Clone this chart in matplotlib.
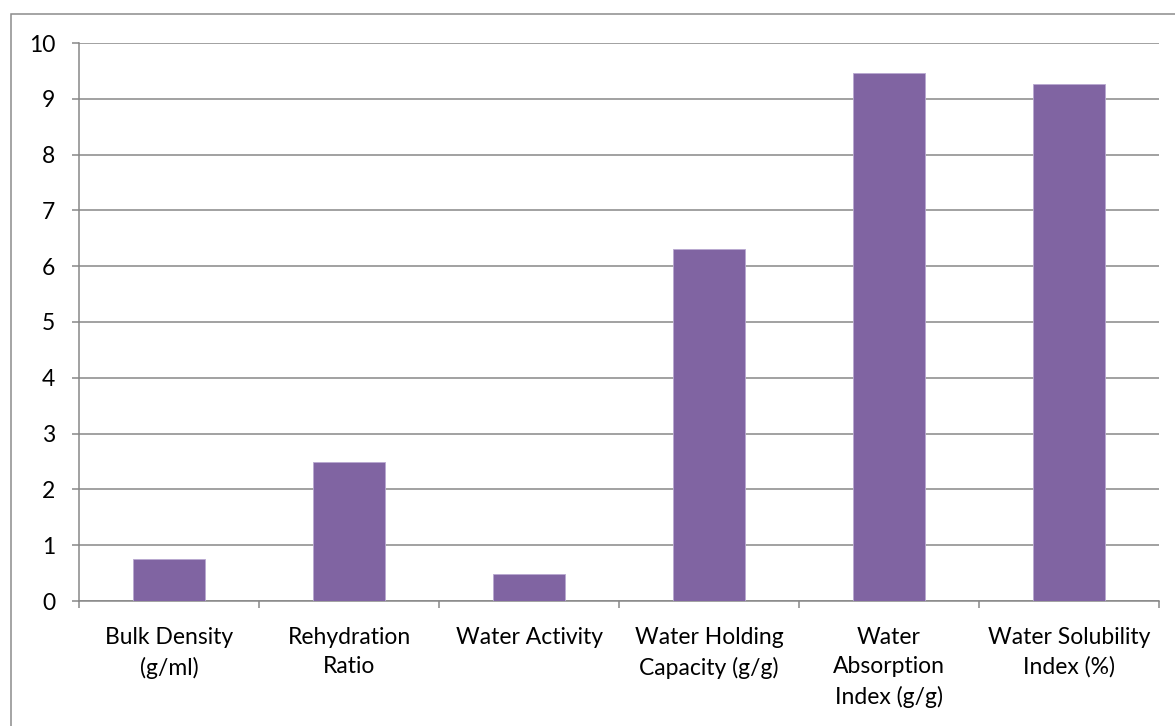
import matplotlib
matplotlib.use("Agg")
import matplotlib.pyplot as plt
from matplotlib.patches import Rectangle
import numpy as np

categories = [
    "Bulk Density\n(g/ml)",
    "Rehydration\nRatio",
    "Water Activity",
    "Water Holding\nCapacity (g/g)",
    "Water\nAbsorption\nIndex (g/g)",
    "Water Solubility\nIndex (%)",
]
values = [0.76, 2.49, 0.49, 6.31, 9.46, 9.27]
y_ticks = [0, 1, 2, 3, 4, 5, 6, 7, 8, 9, 10]

plt.rcParams["font.family"] = ["Lato", "DejaVu Sans"]

W, H = 1175, 726
fig = plt.figure(figsize=(W / 100, H / 100), dpi=100)
ax = fig.add_axes([79 / W, 1 - 601 / H, (1159 - 79) / W, (601 - 43) / H])

grid_c = "#878787"
x = np.arange(len(categories))
ax.bar(x, values, width=0.4, color="#8064A2", edgecolor="#B8A8D0",
       linewidth=0.6, zorder=3)

ax.set_xlim(-0.5, len(categories) - 0.5)
ax.set_ylim(0, 10)
ax.set_yticks(y_ticks)
ax.yaxis.grid(True, color=grid_c, linewidth=1.1, zorder=0)

ax.set_xticks(x)
ax.set_xticklabels(categories, fontsize=16.5, linespacing=1.5, va="top")
ax.set_xticks(np.arange(len(categories) + 1) - 0.5, minor=True)
ax.tick_params(axis="x", which="major", length=0, pad=18.5)
ax.tick_params(axis="x", which="minor", length=5, width=1.1, color=grid_c,
               direction="out")
ax.tick_params(axis="y", length=5, width=1.1, color=grid_c, pad=12,
               labelsize=16.5)

for s in ("top", "right"):
    ax.spines[s].set_visible(False)
for s in ("left", "bottom"):
    ax.spines[s].set_color(grid_c)
    ax.spines[s].set_linewidth(1.1)

# outer chart-area border (runs off the right and bottom edges)
fig.patches.append(Rectangle((10.5 / W, -0.2), 1.5, 1.2 - 13.5 / H,
                             transform=fig.transFigure, fill=False,
                             edgecolor="#8c8c8c", linewidth=1.1))

fig.savefig("out.png", dpi=100)
